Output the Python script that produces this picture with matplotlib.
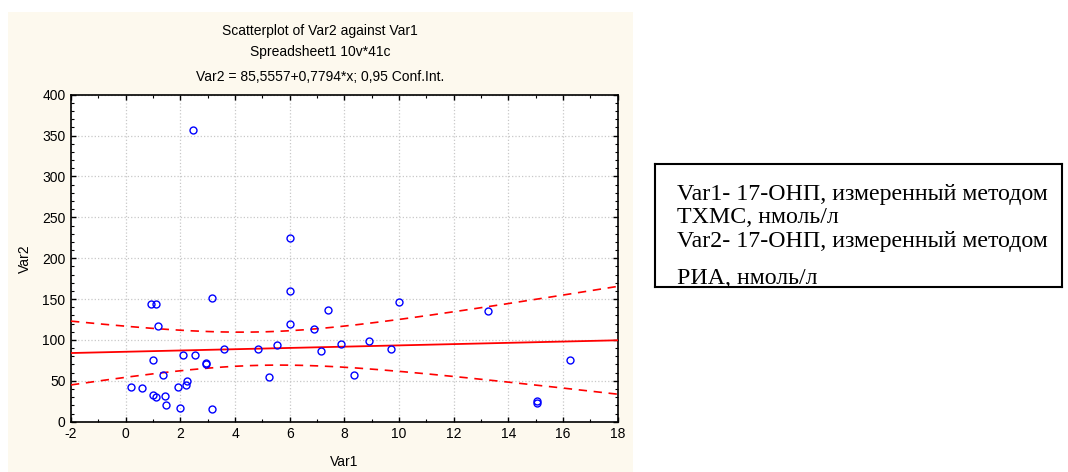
import numpy as np
import matplotlib
matplotlib.use("Agg")
import matplotlib.pyplot as plt
from matplotlib.patches import Rectangle
from matplotlib.ticker import MultipleLocator

plt.rcParams["axes.unicode_minus"] = False

# ---- data ----
var1 = [2.46, 6.02, 0.93, 1.10, 3.14, 6.02, 7.39, 1.19, 6.02, 6.90,
        7.87, 3.58, 4.85, 5.53, 7.15, 1.00, 2.11, 2.55, 2.95, 2.95,
        1.38, 5.24, 8.36, 0.21, 0.60, 2.26, 2.21, 1.91, 1.00, 1.10,
        1.43, 1.48, 1.97, 3.14, 10.01, 13.24, 8.90, 9.72, 16.27, 15.04,
        15.04]
var2 = [356.4, 225.0, 143.6, 143.6, 151.7, 159.9, 137.0, 117.4, 119.1, 113.0,
        95.0, 88.5, 88.5, 93.4, 86.9, 75.5, 82.0, 82.0, 72.2, 70.2,
        57.5, 54.3, 57.5, 42.8, 41.6, 49.4, 44.5, 42.8, 33.0, 30.2,
        31.4, 20.0, 17.1, 15.2, 146.8, 135.8, 98.3, 88.5, 75.5, 25.3,
        23.2]
intercept = 85.5557
slope = 0.7794
t_crit = 2.0227  # t(0.975, 39)

title_lines = ["Scatterplot of Var2 against Var1",
               "Spreadsheet1 10v*41c",
               "Var2 = 85,5557+0,7794*x; 0,95 Conf.Int."]
x_ticks = [-2, 0, 2, 4, 6, 8, 10, 12, 14, 16, 18]
y_ticks = [0, 50, 100, 150, 200, 250, 300, 350, 400]
note_lines = ["Var1- 17-ОНП, измеренный методом",
              "ТХМС, нмоль/л",
              "Var2- 17-ОНП, измеренный методом",
              "РИА, нмоль/л"]

W, H = 1068, 472
fig = plt.figure(figsize=(W / 100, H / 100), dpi=100)
fig.patch.set_facecolor("white")

# cream panel behind the chart
fig.patches.append(Rectangle((8 / W, 0), (633 - 8) / W, (472 - 12) / H,
                             transform=fig.transFigure, facecolor="#FDF9EE",
                             edgecolor="none", zorder=-5))

ax = fig.add_axes([71 / W, (H - 421.7) / H, (617.7 - 71) / W, (421.7 - 94.7) / H])
ax.set_zorder(2)
ax.set_facecolor("white")

x = np.array(var1)
y = np.array(var2)
n = len(x)
xm = x.mean()
sxx = ((x - xm) ** 2).sum()
resid = y - (intercept + slope * x)
s = np.sqrt((resid ** 2).sum() / (n - 2))

xs = np.linspace(-2, 18, 200)
yfit = intercept + slope * xs
half = t_crit * s * np.sqrt(1 / n + (xs - xm) ** 2 / sxx)

ax.plot(xs, yfit, color="#FF0000", lw=1.3, zorder=3)
ax.plot(xs, yfit + half, color="#FF0000", lw=1.2, ls=(0, (5, 4)), zorder=3)
ax.plot(xs, yfit - half, color="#FF0000", lw=1.2, ls=(0, (5, 4)), zorder=3)

ax.plot(x, y, ls="none", marker="o", markersize=5.0, markerfacecolor="none",
        markeredgecolor="#0000FF", markeredgewidth=1.0, zorder=4)

ax.set_xlim(-2, 18)
ax.set_ylim(0, 400)
ax.set_xticks(x_ticks)
ax.set_yticks(y_ticks)
ax.xaxis.set_minor_locator(MultipleLocator(1))
ax.yaxis.set_minor_locator(MultipleLocator(10))
ax.grid(True, which="major", color="#C8C8C8", ls=":", lw=0.9)
ax.set_axisbelow(True)

font = "Liberation Sans"
ax.tick_params(which="both", direction="in", top=True, right=True,
               labelsize=10, colors="black")
ax.tick_params(which="major", length=3.5, width=1.0, pad=4)
ax.tick_params(which="minor", length=2, width=0.8)
for lab in ax.get_xticklabels() + ax.get_yticklabels():
    lab.set_fontfamily(font)
for sp in ax.spines.values():
    sp.set_linewidth(1.2)
    sp.set_color("black")

ax.set_xlabel("Var1", fontsize=10, family=font, labelpad=10)
ax.set_ylabel("Var2", fontsize=10, family=font, labelpad=7)

cx = 320 / W
for txt, py in zip(title_lines, [31, 52, 77]):
    fig.text(cx, 1 - py / H, txt, ha="center", va="center", fontsize=10,
             family=font)

# note box
bx0, by0, bx1, by1 = 655, 164, 1062, 287
bax = fig.add_axes([bx0 / W, (H - by1) / H, (bx1 - bx0) / W, (by1 - by0) / H])
bax.set_xticks([])
bax.set_yticks([])
bax.set_facecolor("white")
for sp in bax.spines.values():
    sp.set_linewidth(1.5)
    sp.set_color("black")
bax.set_xlim(bx0, bx1)
bax.set_ylim(by1, by0)
for txt, py in zip(note_lines, [200, 223, 247, 284]):
    bax.text(677, py, txt, ha="left", va="baseline", fontsize=17.2,
             family="Liberation Serif", clip_on=True)

fig.savefig("out.png", dpi=100, facecolor=fig.get_facecolor())
